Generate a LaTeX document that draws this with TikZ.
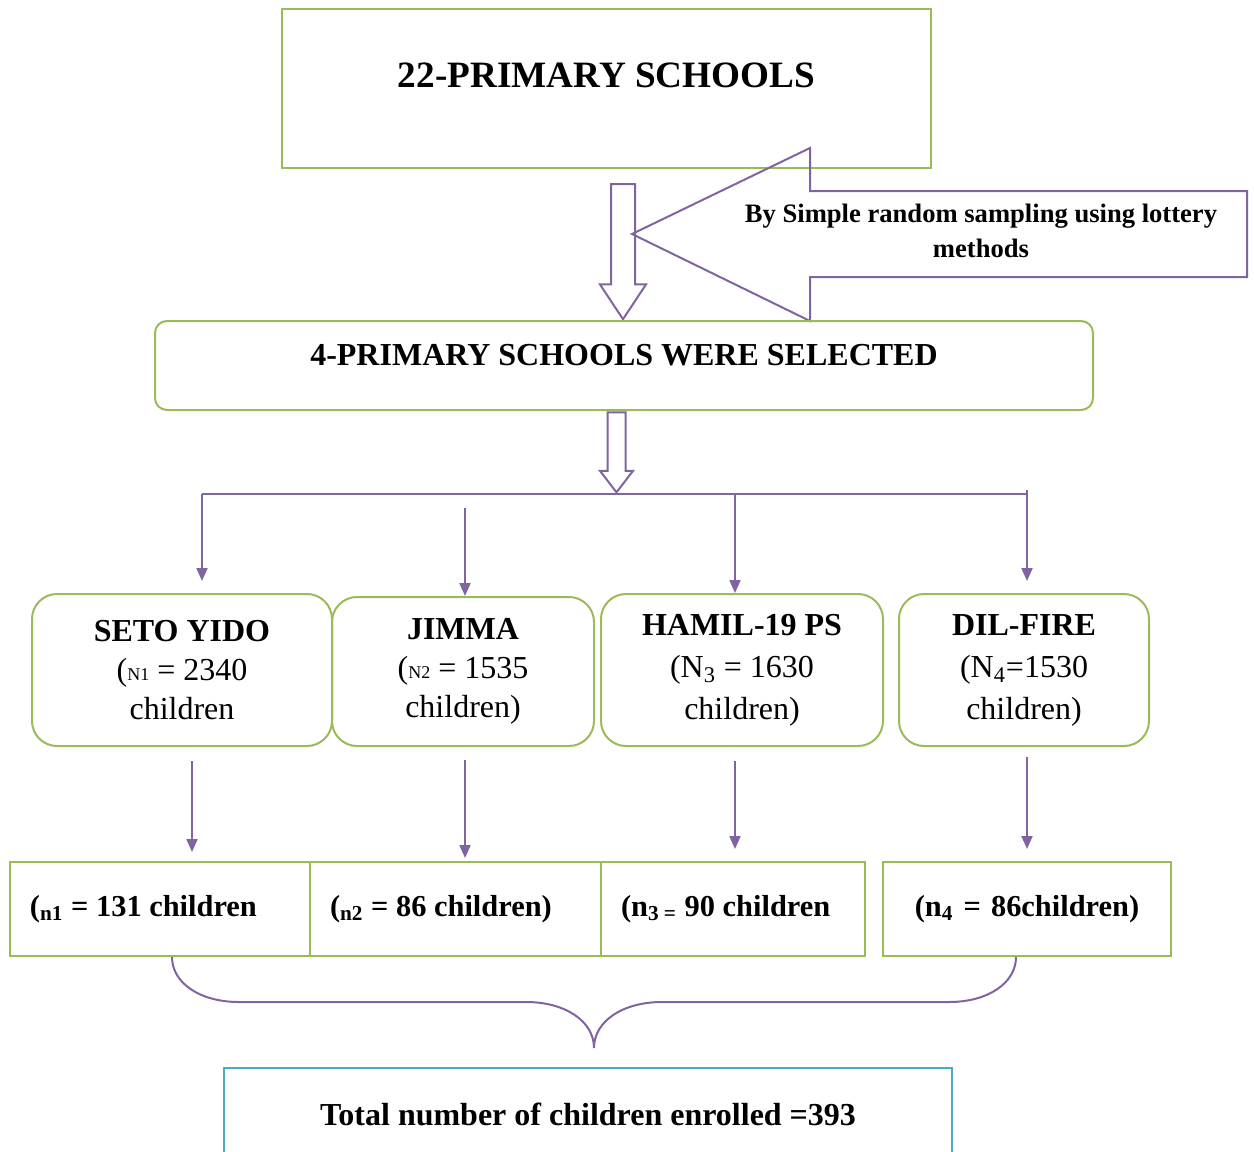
\documentclass[tikz,border=0pt]{standalone}
\usepackage{fontspec}
\setmainfont{Liberation Serif}
\usetikzlibrary{shapes.arrows,arrows.meta}
\definecolor{boxgreen}{HTML}{9BBB59}
\definecolor{arrowviolet}{HTML}{8064A2}
\definecolor{totalblue}{HTML}{4BACC6}

\begin{document}
\begin{tikzpicture}[x=0.5pt,y=-0.5pt,
	box/.style={draw=boxgreen,line width=1pt,align=center,font=\fontsize{16}{19.5}\selectfont},
	school/.style={box,rounded corners=12.5pt,minimum height=76pt},
	count/.style={box,align=flush left,inner xsep=10pt,minimum height=47pt,font=\fontsize{15.2}{19}\selectfont\bfseries},
	line/.style={draw=arrowviolet,line width=1pt},
	link/.style={line,-{Triangle[length=6.5pt,width=5.5pt]}},
	hollow/.style={single arrow,draw=arrowviolet,line width=1pt,rotate=-90,inner xsep=0pt,anchor=tip}]
			\useasboundingbox (0,0) rectangle (1254,1152);
			\node[box,minimum width=324.5pt,minimum height=79.5pt,text depth=13.5pt,font=\fontsize{18.6}{22}\selectfont\bfseries] (top) at (606.5,88.5) {22-PRIMARY SCHOOLS};
			\draw[line] (632,234) -- (810,148) -- (810,191) -- (1247,191) -- (1247,277) -- (810,277) -- (810,321) -- cycle;
			\node[align=center,font=\fontsize{13.3}{17.5}\selectfont\bfseries] (lottery) at (981,231) {By Simple random sampling using lottery\\methods};
			\node[hollow,minimum height=67.5pt,inner ysep=5.5pt,single arrow head extend=5.5pt,single arrow tip angle=67] (pick) at (623,321) {};
			\node[box,rounded corners=6pt,minimum width=469pt,minimum height=44.5pt,text depth=11pt,font=\fontsize{16}{19.5}\selectfont\bfseries] (sel) at (624,365.5) {4-PRIMARY SCHOOLS WERE SELECTED};
			\node[hollow,minimum height=40pt,inner ysep=4pt,single arrow head extend=3.75pt,single arrow tip angle=75] (split) at (616.5,494) {};
			\node[school,minimum width=150pt] (seto) at (182,670) {\textbf{SETO YIDO}\\({\fontsize{9}{10}\selectfont N1} = 2340\\children};
			\node[school,minimum width=131pt,minimum height=74.5pt] (jimma) at (463,671.5) {\textbf{JIMMA}\\({\fontsize{9}{10}\selectfont N2} = 1535\\children)};
			\node[school,minimum width=141pt,font=\fontsize{16}{21}\selectfont] (hamil) at (742,670) {\textbf{HAMIL-19 PS}\\(N\textsubscript{3} = 1630\\children)};
			\node[school,minimum width=125pt,font=\fontsize{16}{21}\selectfont] (dil) at (1024,670) {\textbf{DIL-FIRE}\\(N\textsubscript{4}=1530\\children)};
			\node[count,text width=130pt] (n1) at (160,909) {(\textsubscript{n1} = 131 children};
			\node[count,text width=125.5pt] (n2) at (455.5,909) {(\textsubscript{n2} = 86 children)};
			\node[count,text width=112pt] (n3) at (733,909) {(n\textsubscript{3 =} 90 children};
			\node[count,align=center,text width=124pt] (n4) at (1027,909) {(n\textsubscript{4} = 86children)};
			\node[draw=totalblue,line width=1pt,minimum width=364pt,minimum height=46pt,font=\fontsize{16}{19.5}\selectfont\bfseries] (total) at (588,1114) {Total number of children enrolled =393};
			\coordinate (b1) at (202,494);
			\coordinate (b3) at (735,494);
			\coordinate (b4) at (1027,490);
			\draw[line] (b1) -- (b1 -| b4);
			\draw[link,shorten >=6pt] (b1) -- (b1 |- seto.north);
			\draw[link] ([xshift=1pt,yshift=44pt]jimma.north) -- ([xshift=1pt]jimma.north);
			\draw[link] (b3) -- (b3 |- hamil.north);
			\draw[link,shorten >=6pt] (b4) -- (b4 |- dil.north);
			\draw[link] ([xshift=5pt,yshift=-7pt]seto.south) -- ([xshift=16pt,yshift=4.5pt]n1.north);
			\draw[link] ([xshift=1pt,yshift=-6.5pt]jimma.south) -- ([xshift=4.75pt,yshift=1.5pt]n2.north);
			\draw[link] ([xshift=-3.5pt,yshift=-7pt]hamil.south) -- ([xshift=1pt,yshift=6pt]n3.north);
			\draw[link] ([xshift=1.5pt,yshift=-5pt]dil.south) -- ([yshift=6pt]n4.north);
			\draw[line] ([xshift=6pt]n1.south) .. controls (172,983) and (200,1002) .. (239,1002) -- (526,1002) .. controls (565,1002) and (594,1021) .. (594,1048) .. controls (594,1021) and (623,1002) .. (662,1002) -- (949,1002) .. controls (988,1002) and (1016,983) .. ([xshift=-5.5pt]n4.south);
		\end{tikzpicture}
\end{document}
